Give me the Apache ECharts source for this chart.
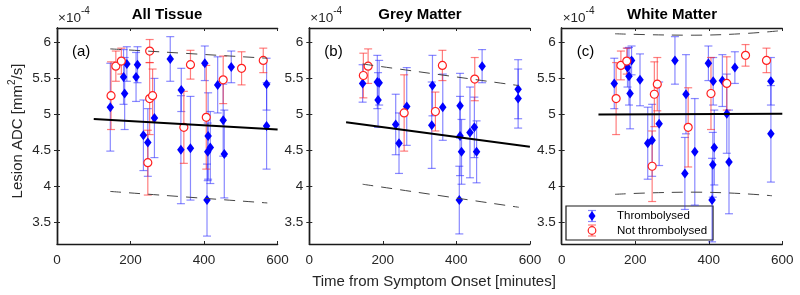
<!DOCTYPE html>
<html>
<head>
<meta charset="utf-8">
<script src="https://cdn.jsdelivr.net/npm/echarts@6/dist/echarts.min.js"></script>
<style>
  html, body { margin: 0; padding: 0; background: #fff; }
  #chart { width: 800px; height: 295px; }
</style>
</head>
<body>
<div id="chart"></div>
<script>
// values are ADC in units of 1e-4 mm^2/s; rows are [minutes, ADC, error]
var titles = ['All Tissue', 'Grey Matter', 'White Matter'];
var panelTags = ['(a)', '(b)', '(c)'];
var xTicks = [0, 200, 400, 600];
var yTicks = [3.5, 4, 4.5, 5, 5.5, 6];

var thrombA = [
  [145, 5.10, 0.61], [181, 5.52, 0.38], [184, 5.29, 0.50], [190, 5.70, 0.24],
  [215, 5.52, 0.34], [219, 5.69, 0.25], [235, 4.71, 0.49], [247, 4.61, 0.47],
  [265, 4.95, 0.55], [308, 5.77, 0.31], [337, 4.51, 0.75], [338, 5.34, 0.30],
  [363, 4.53, 0.72], [402, 5.71, 0.24], [408, 3.81, 0.50], [410, 4.48, 0.40],
  [411, 4.70, 0.60], [417, 4.54, 0.50], [437, 5.41, 0.39], [452, 4.92, 0.50],
  [455, 4.45, 0.61], [474, 5.66, 0.22], [570, 5.42, 0.36], [570, 4.84, 0.60]
];
var notThrombA = [
  [147, 5.26, 0.47], [160, 5.67, 0.21], [175, 5.74, 0.18], [247, 4.33, 0.45],
  [252, 5.88, 0.16], [252, 5.22, 0.50], [260, 5.26, 0.37], [345, 4.82, 0.50],
  [363, 5.69, 0.20], [406, 4.96, 0.72], [452, 5.48, 0.33], [502, 5.64, 0.23],
  [561, 5.75, 0.17]
];
var fitA = [[100, 4.935], [600, 4.79]];
var upperA = [[145, 5.91], [572, 5.78]];
var lowerA = [[145, 3.93], [572, 3.77]];

var thrombB = [
  [145, 5.43, 0.26], [185, 5.45, 0.37], [190, 5.44, 0.31], [187, 5.20, 0.38],
  [235, 4.86, 0.42], [244, 4.60, 0.42], [265, 5.11, 0.54], [333, 4.85, 0.60],
  [335, 5.40, 0.42], [363, 5.10, 0.46], [408, 3.81, 0.47], [410, 5.12, 0.45],
  [410, 4.70, 0.55], [414, 4.48, 0.45], [437, 4.75, 0.63], [449, 4.82, 0.42],
  [455, 4.48, 0.43], [470, 5.67, 0.23], [568, 5.35, 0.41], [568, 5.22, 0.41]
];
var notThrombB = [
  [147, 5.54, 0.31], [160, 5.67, 0.24], [258, 5.02, 0.53], [343, 5.04, 0.27],
  [362, 5.68, 0.21], [450, 5.49, 0.30]
];
var fitB = [[100, 4.89], [600, 4.55]];
var upperB = [[145, 5.70], [570, 5.40]];
var lowerB = [[145, 4.03], [570, 3.71]];

var thrombC = [
  [143, 5.43, 0.35], [179, 5.65, 0.27], [183, 5.53, 0.40], [186, 5.29, 0.49],
  [190, 5.75, 0.20], [213, 5.48, 0.36], [234, 4.60, 0.50], [246, 4.64, 0.50],
  [265, 4.87, 0.58], [308, 5.75, 0.33], [335, 4.18, 0.50], [338, 5.28, 0.55],
  [362, 4.48, 0.74], [399, 5.71, 0.24], [409, 3.81, 0.58], [411, 4.30, 0.45],
  [412, 5.46, 0.33], [415, 4.54, 0.52], [437, 5.47, 0.36], [449, 5.01, 0.55],
  [455, 4.34, 0.72], [471, 5.65, 0.22], [569, 5.46, 0.33], [569, 4.73, 0.67]
];
var notThrombC = [
  [148, 5.22, 0.50], [161, 5.68, 0.20], [177, 5.74, 0.18], [246, 4.28, 0.49],
  [252, 5.28, 0.45], [260, 5.42, 0.37], [344, 4.82, 0.55], [406, 5.29, 0.50],
  [449, 5.43, 0.37], [500, 5.82, 0.15], [557, 5.75, 0.17]
];
var fitC = [[100, 5.00], [600, 5.01]];
var upperC = [[145, 6.12], [360, 6.10], [590, 6.16]];
var lowerC = [[145, 3.89], [360, 3.92], [572, 3.87]];

var panels = [
  { thromb: thrombA, notThromb: notThrombA, fit: fitA, upper: upperA, lower: lowerA },
  { thromb: thrombB, notThromb: notThrombB, fit: fitB, upper: upperB, lower: lowerB },
  { thromb: thrombC, notThromb: notThrombC, fit: fitC, upper: upperC, lower: lowerC }
];

var FONT = '"Liberation Sans", Arial, Helvetica, sans-serif';
var INK = '#262626';
var BLUE = '#0000ff';
var BLUE_BAR = 'rgba(40,40,255,0.55)';
var RED = '#ff2020';
var RED_BAR = 'rgba(255,40,40,0.6)';
var gridLefts = [57, 309.3, 561.7];

var chart = echarts.init(document.getElementById('chart'));

function errorBars(color) {
  return function (params, api) {
    var x = api.value(0), y = api.value(1), e = api.value(2);
    var hi = api.coord([x, y + e]);
    var lo = api.coord([x, y - e]);
    var w = 4;
    var st = { stroke: color, lineWidth: 1.2 };
    return {
      type: 'group',
      children: [
        { type: 'line', shape: { x1: hi[0], y1: hi[1], x2: lo[0], y2: lo[1] }, style: st },
        { type: 'line', shape: { x1: hi[0] - w, y1: hi[1], x2: hi[0] + w, y2: hi[1] }, style: st },
        { type: 'line', shape: { x1: lo[0] - w, y1: lo[1], x2: lo[0] + w, y2: lo[1] }, style: st }
      ]
    };
  };
}

var grids = [], xAxes = [], yAxes = [], series = [];
var axisLine = { show: true, lineStyle: { color: '#1a1a1a', width: 1.4 } };

panels.forEach(function (p, i) {
  grids.push({ left: gridLefts[i], width: 220.6, top: 28, height: 216 });
  xAxes.push({
    gridIndex: i, type: 'value', min: 0, max: 600, interval: 200, position: 'bottom',
    axisLine: axisLine, splitLine: { show: false },
    axisTick: { inside: true, length: 3, lineStyle: { color: INK } },
    axisLabel: { color: INK, fontSize: 13.5, fontFamily: FONT, margin: 9, showMinLabel: true, showMaxLabel: true }
  });
  xAxes.push({
    gridIndex: i, type: 'value', min: 0, max: 600, interval: 200, position: 'top',
    axisLine: axisLine, splitLine: { show: false },
    axisTick: { inside: true, length: 3, lineStyle: { color: INK } },
    axisLabel: { show: false }
  });
  yAxes.push({
    gridIndex: i, type: 'value', min: 3.2, max: 6.2, position: 'left',
    axisLine: axisLine, splitLine: { show: false },
    axisTick: { inside: true, length: 3, customValues: yTicks, lineStyle: { color: INK } },
    axisLabel: { color: INK, fontSize: 13.5, fontFamily: FONT, margin: 6, customValues: yTicks }
  });
  yAxes.push({
    gridIndex: i, type: 'value', min: 3.2, max: 6.2, position: 'right',
    axisLine: axisLine, splitLine: { show: false },
    axisTick: { inside: true, length: 3, customValues: yTicks, lineStyle: { color: INK } },
    axisLabel: { show: false }
  });

  var xi = 2 * i, yi = 2 * i;
  series.push({
    type: 'custom', xAxisIndex: xi, yAxisIndex: yi, renderItem: errorBars(BLUE_BAR),
    data: p.thromb, encode: { x: 0, y: 1 }, z: 2, silent: true
  });
  series.push({
    type: 'custom', xAxisIndex: xi, yAxisIndex: yi, renderItem: errorBars(RED_BAR),
    data: p.notThromb, encode: { x: 0, y: 1 }, z: 2, silent: true
  });
  series.push({
    type: 'scatter', xAxisIndex: xi, yAxisIndex: yi, symbol: 'diamond', symbolSize: [7.5, 10],
    itemStyle: { color: BLUE, opacity: 1 }, data: p.thromb.map(function (d) { return [d[0], d[1]]; }), z: 3
  });
  series.push({
    type: 'scatter', xAxisIndex: xi, yAxisIndex: yi, symbol: 'circle', symbolSize: 8,
    itemStyle: { color: '#fff', borderColor: RED, borderWidth: 1.2, opacity: 1 },
    data: p.notThromb.map(function (d) { return [d[0], d[1]]; }), z: 3
  });
  series.push({
    type: 'line', xAxisIndex: xi, yAxisIndex: yi, data: p.fit, showSymbol: false, z: 4,
    lineStyle: { color: '#000', width: 2 }
  });
  [p.upper, p.lower].forEach(function (band) {
    series.push({
      type: 'line', xAxisIndex: xi, yAxisIndex: yi, data: band, showSymbol: false, smooth: true, z: 4,
      lineStyle: { color: '#444', width: 1, type: [11, 8] }
    });
  });
});

var graphics = [];
var titleCenters = [167, 420, 672];
titles.forEach(function (t, i) {
  graphics.push({
    type: 'text', x: titleCenters[i], y: 15,
    style: { text: t, font: 'bold 15px ' + FONT, fill: '#000', align: 'center', verticalAlign: 'middle' }
  });
  graphics.push({
    type: 'text', x: gridLefts[i] + 1, y: 15,
    style: {
      text: '{b|\u00d710}{s|-4}', align: 'left', verticalAlign: 'middle',
      rich: {
        b: { fontSize: 13.5, fontFamily: FONT, fill: INK, padding: [7, 0, 0, 0] },
        s: { fontSize: 10, fontFamily: FONT, fill: INK, padding: [0, 0, 7, 0] }
      }
    }
  });
  graphics.push({
    type: 'text', x: gridLefts[i] + 15, y: 52,
    style: { text: panelTags[i], font: '15px ' + FONT, fill: '#000', align: 'left', verticalAlign: 'middle' }
  });
});

graphics.push({
  type: 'text', x: 15, y: 131, rotation: Math.PI / 2,
  style: {
    text: '{a|Lesion ADC [mm}{s|2}{a|/s]}', align: 'center', verticalAlign: 'middle',
    rich: {
      a: { fontSize: 15, fontFamily: FONT, fill: INK, padding: [6, 0, 0, 0] },
      s: { fontSize: 10, fontFamily: FONT, fill: INK, padding: [0, 0, 6, 0] }
    }
  }
});
graphics.push({
  type: 'text', x: 434, y: 282,
  style: { text: 'Time from Symptom Onset [minutes]', font: '15px ' + FONT, fill: INK, align: 'center', verticalAlign: 'middle' }
});

// legend box inside panel (c)
var lgX = 566, lgY = 206;
graphics.push({
  type: 'group', z: 100,
  children: [
    { type: 'rect', shape: { x: lgX, y: lgY, width: 147, height: 34 }, style: { fill: '#fff', stroke: '#1a1a1a', lineWidth: 1.2 } },
    { type: 'line', shape: { x1: 592, y1: 210.5, x2: 592, y2: 221.5 }, style: { stroke: BLUE_BAR, lineWidth: 1.2 } },
    { type: 'line', shape: { x1: 588, y1: 210.5, x2: 596, y2: 210.5 }, style: { stroke: BLUE_BAR, lineWidth: 1.2 } },
    { type: 'line', shape: { x1: 588, y1: 221.5, x2: 596, y2: 221.5 }, style: { stroke: BLUE_BAR, lineWidth: 1.2 } },
    { type: 'polygon', shape: { points: [[592, 211], [595.5, 216], [592, 221], [588.5, 216]] }, style: { fill: BLUE } },
    { type: 'text', x: 617, y: 216, style: { text: 'Thrombolysed', font: '11.5px ' + FONT, fill: '#000', verticalAlign: 'middle' } },
    { type: 'line', shape: { x1: 592, y1: 225, x2: 592, y2: 236 }, style: { stroke: RED_BAR, lineWidth: 1.2 } },
    { type: 'line', shape: { x1: 588, y1: 225, x2: 596, y2: 225 }, style: { stroke: RED_BAR, lineWidth: 1.2 } },
    { type: 'line', shape: { x1: 588, y1: 236, x2: 596, y2: 236 }, style: { stroke: RED_BAR, lineWidth: 1.2 } },
    { type: 'circle', shape: { cx: 592, cy: 230.5, r: 3.8 }, style: { fill: '#fff', stroke: RED, lineWidth: 1.2 } },
    { type: 'text', x: 617, y: 230.5, style: { text: 'Not thrombolysed', font: '11.5px ' + FONT, fill: '#000', verticalAlign: 'middle' } }
  ]
});

var option = {
  animation: false,
  backgroundColor: '#fff',
  grid: grids,
  xAxis: xAxes,
  yAxis: yAxes,
  series: series,
  graphic: graphics
};
chart.setOption(option);
</script>
</body>
</html>
